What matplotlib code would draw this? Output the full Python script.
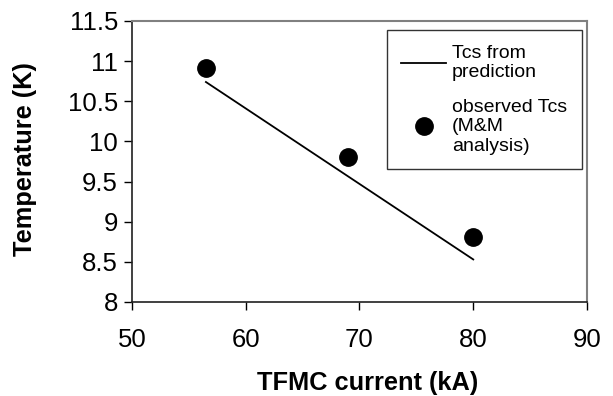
import matplotlib.pyplot as plt
import numpy as np

plt.rcParams['font.family'] = ['Liberation Sans', 'DejaVu Sans']

# Predicted Tcs (straight line) and observed Tcs (M&M analysis)
pred_current = np.array([56.5, 80.0])
pred_tcs = np.array([10.74, 8.53])

obs_current = np.array([56.5, 69.0, 80.0])
obs_tcs = np.array([10.91, 9.81, 8.81])

xticks = [50, 60, 70, 80, 90]
yticks = [8, 8.5, 9, 9.5, 10, 10.5, 11, 11.5]
ytick_labels = ['8', '8.5', '9', '9.5', '10', '10.5', '11', '11.5']

fig = plt.figure(figsize=(6.13, 3.96), dpi=100)
ax = fig.add_axes([0.2153, 0.2374, 0.7423, 0.7096])

ax.plot(pred_current, pred_tcs, color='black', linewidth=1.3,
        label='Tcs from\nprediction')
ax.plot(obs_current, obs_tcs, linestyle='none', marker='o', markersize=12.5,
        color='black', label='observed Tcs\n(M&M\nanalysis)')

ax.set_xlim(50, 90)
ax.set_ylim(8, 11.5)
ax.set_xticks(xticks)
ax.set_yticks(yticks)
ax.set_yticklabels(ytick_labels)
ax.tick_params(direction='out', length=6, width=1, labelsize=18.5, pad=4,
               color='black')
ax.tick_params(axis='x', pad=12.5)

for side in ['left', 'bottom']:
    ax.spines[side].set_color('#202020')
    ax.spines[side].set_linewidth(1.2)
for side in ['top', 'right']:
    ax.spines[side].set_color('#808080')
    ax.spines[side].set_linewidth(1.5)

ax.set_xlabel('TFMC current (kA)', fontsize=18.3, fontweight='bold')
ax.xaxis.set_label_coords(0.517, -0.313)
ax.xaxis.label.set_va('baseline')
ax.set_ylabel('Temperature (K)', fontsize=18.3, fontweight='bold')
ax.yaxis.set_label_coords(-0.235, 0.509)
ax.yaxis.label.set_va('center')

leg = ax.legend(loc='upper right', bbox_to_anchor=(0.988, 0.968),
                fontsize=14, frameon=True, fancybox=False, edgecolor='black',
                handlelength=2.3, handletextpad=0.3, labelspacing=0.9,
                borderpad=0.75, borderaxespad=0)
leg.get_frame().set_linewidth(1.0)

plt.savefig('out.png', dpi=100)
